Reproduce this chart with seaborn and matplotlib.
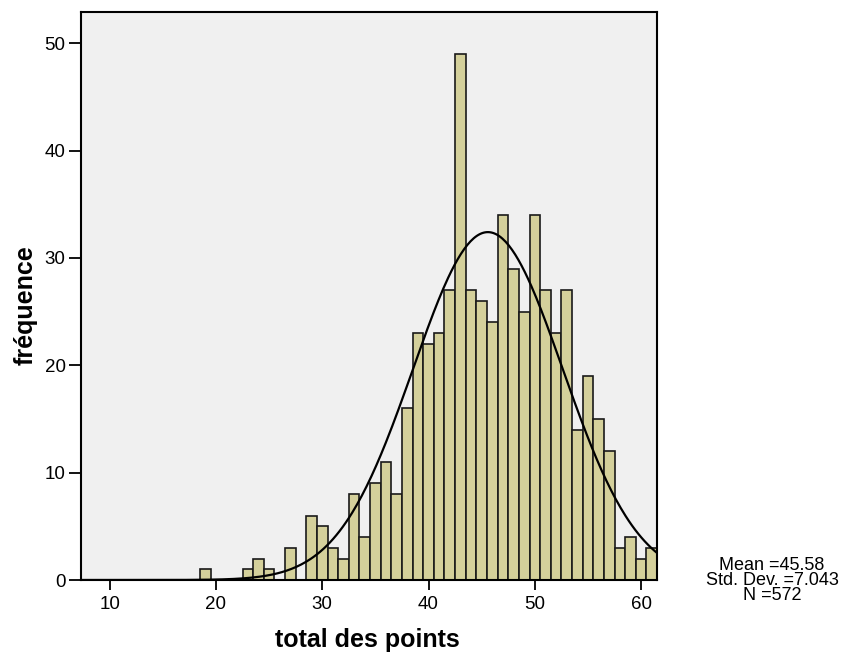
import numpy as np
import pandas as pd
import seaborn as sns
import matplotlib.pyplot as plt

# scores (total des points) and their frequencies
scores = [19, 23, 24, 25, 27, 29, 30, 31, 32, 33, 34, 35, 36, 37, 38, 39, 40,
          41, 42, 43, 44, 45, 46, 47, 48, 49, 50, 51, 52, 53, 54, 55, 56, 57,
          58, 59, 60, 61]
counts = [1, 1, 2, 1, 3, 6, 5, 3, 2, 8, 4, 9, 11, 8, 16, 23, 22,
          23, 27, 49, 27, 26, 24, 34, 29, 25, 34, 27, 23, 27, 14, 19, 15, 12,
          3, 4, 2, 3]
stat_mean = 45.58
stat_sd = 7.043
stat_n = 572
x_ticks = [10, 20, 30, 40, 50, 60]
y_ticks = [0, 10, 20, 30, 40, 50]

df = pd.DataFrame({"score": scores, "count": counts})

sns.set_style("white")
plt.rcParams["font.family"] = ["Liberation Sans", "DejaVu Sans"]
plt.rcParams["text.color"] = "black"
plt.rcParams["axes.labelcolor"] = "black"

fig = plt.figure(figsize=(8.46, 6.52), dpi=100)
ax = fig.add_axes([0.0957, 0.1104, 0.681, 0.8712])
ax.set_facecolor("#F0F0F0")

sns.histplot(data=df, x="score", weights="count", discrete=True, ax=ax,
             color="#D4D09B", edgecolor="#1A1A1A", linewidth=1.2, alpha=1)

# fitted normal curve
xs = np.linspace(5, 65, 400)
ys = stat_n * 1.0 / (stat_sd * np.sqrt(2 * np.pi)) * np.exp(-0.5 * ((xs - stat_mean) / stat_sd) ** 2)
ax.plot(xs, ys, color="black", linewidth=1.6)

ax.set_xlim(7.3, 61.5)
ax.set_ylim(0, 52.9)
ax.set_xticks(x_ticks)
ax.set_yticks(y_ticks)
ax.tick_params(axis="both", direction="out", width=1.3, labelsize=13.5,
               colors="black", bottom=True, left=True)
ax.tick_params(axis="x", length=7.5, pad=4)
ax.tick_params(axis="y", length=9, pad=2)
for s in ax.spines.values():
    s.set_visible(True)
    s.set_color("black")
    s.set_linewidth(1.5)

ax.set_xlabel("total des points", fontsize=18, fontweight="bold")
ax.set_ylabel("fréquence", fontsize=18, fontweight="bold")
ax.xaxis.set_label_coords(0.497, -0.085)
ax.yaxis.set_label_coords(-0.076, 0.484)

stats_lines = [f"Mean ={stat_mean:.2f}", f"Std. Dev. ={stat_sd:.3f}", f"N ={stat_n}"]
for i, line in enumerate(stats_lines):
    fig.text(772 / 846, 1 - (565 + 15.5 * i) / 652, line,
             ha="center", va="center", fontsize=13)

fig.savefig("out.png", dpi=100)
plt.close(fig)
